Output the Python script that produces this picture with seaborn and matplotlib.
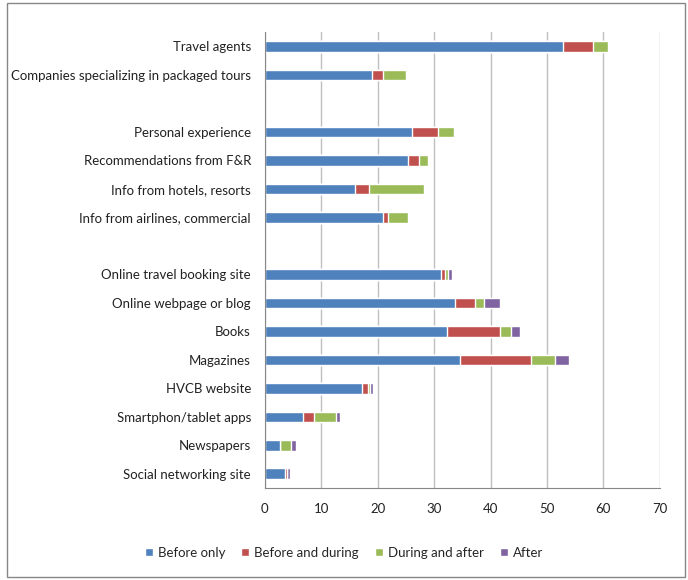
import numpy as np
import pandas as pd
import matplotlib.pyplot as plt
import seaborn as sns
from matplotlib.patches import Rectangle, Patch

sns.set_style("white")
plt.rcParams['font.family'] = ['Lato', 'DejaVu Sans']

# --- Data (percent of respondents) ---
categories = [
    "Travel agents", "Companies specializing in packaged tours", "",
    "Personal experience", "Recommendations from F&R", "Info from hotels, resorts",
    "Info from airlines, commercial", " ",
    "Online travel booking site", "Online webpage or blog", "Books", "Magazines",
    "HVCB website", "Smartphon/tablet apps", "Newspapers", "Social networking site",
]
before_only = [52.9, 19.0, np.nan, 26.1, 25.4, 15.9, 20.9, np.nan,
               31.2, 33.7, 32.3, 34.6, 17.2, 6.8, 2.7, 3.6]
before_and_during = [5.2, 1.9, np.nan, 4.5, 2.0, 2.5, 0.9, np.nan,
                     0.7, 3.6, 9.4, 12.5, 1.0, 1.9, 0.0, 0.3]
during_and_after = [2.8, 4.2, np.nan, 3.0, 1.5, 9.8, 3.6, np.nan,
                    0.6, 1.5, 2.0, 4.3, 0.4, 3.9, 2.0, 0.0]
after = [0.0, 0.0, np.nan, 0.0, 0.0, 0.0, 0.0, np.nan,
         0.7, 2.9, 1.5, 2.5, 0.5, 0.7, 0.9, 0.5]

series = ["Before only", "Before and during", "During and after", "After"]
colors = ["#4F81BD", "#C0504D", "#9BBB59", "#8064A2"]

df = pd.DataFrame({
    "category": categories,
    "Before only": before_only,
    "Before and during": before_and_during,
    "During and after": during_and_after,
    "After": after,
}).dropna()

# cumulative sums, drawn from the longest to the shortest
cum = df[series].cumsum(axis=1)

fig = plt.figure(figsize=(6.88, 5.8), dpi=100)
ax = fig.add_axes([0.385, 0.1586, 0.574, 0.786])

for s, c in reversed(list(zip(series, colors))):
    sns.barplot(x=cum[s], y=df["category"], order=categories, orient="h",
                color=c, width=0.37, saturation=1, ax=ax)

ax.set_xlim(0, 70)
ax.set_xticks(np.arange(0, 71, 10))
ax.set_xlabel("")
ax.set_ylabel("")
ax.grid(axis="x", color="#BFBFBF", linewidth=1)
ax.set_axisbelow(True)

for side in ["top", "right"]:
    ax.spines[side].set_visible(False)
for side in ["left", "bottom"]:
    ax.spines[side].set_color("#878787")

# y ticks between categories
ax.tick_params(axis="y", which="major", length=0, labelsize=9.5, pad=10,
               labelcolor="#222222")
ax.set_yticks(np.arange(-0.5, len(categories), 1), minor=True)
ax.tick_params(axis="y", which="minor", length=5, color="#878787", direction="out")
ax.tick_params(axis="x", length=5, color="#878787", labelsize=9.5, pad=6,
               labelcolor="#222222")

handles = [Patch(facecolor=c, label=s) for s, c in zip(series, colors)]
fig.legend(handles=handles, loc="center", bbox_to_anchor=(0.5, 0.047), ncol=4,
           frameon=False, fontsize=9.5, handlelength=0.6, handleheight=0.6,
           handletextpad=0.4, columnspacing=1.2)

fig.patches.append(Rectangle((0.01, 0.005), 0.985, 0.99, transform=fig.transFigure,
                             fill=False, edgecolor="#878787", linewidth=1))

plt.savefig("out.png", dpi=100)
